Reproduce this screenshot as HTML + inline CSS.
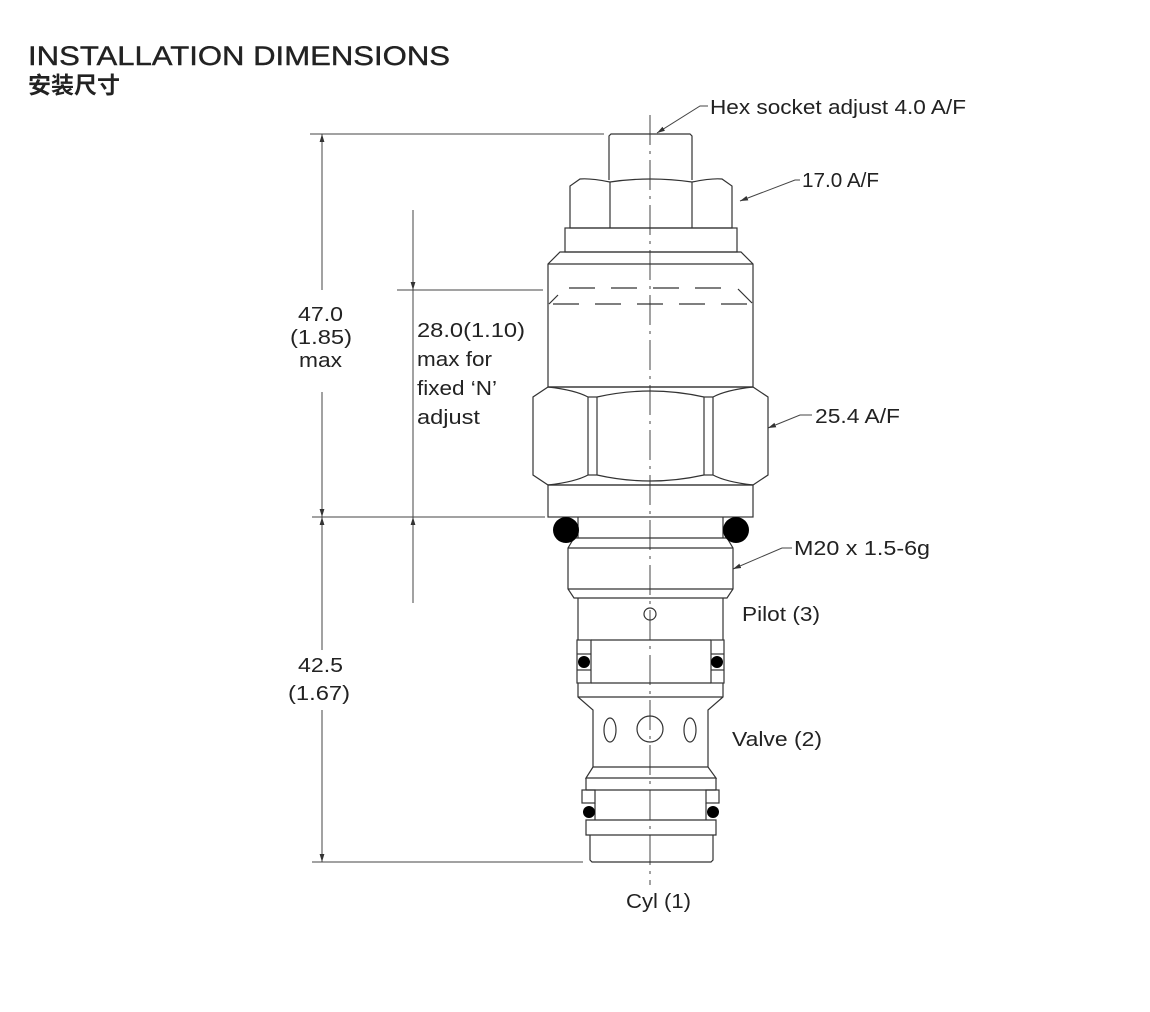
<!DOCTYPE html>
<html><head><meta charset="utf-8"><style>
html,body{margin:0;padding:0;background:#fff;width:1150px;height:1012px;overflow:hidden}
svg{display:block}
text{font-family:"Liberation Sans","Noto Sans CJK SC",sans-serif;fill:#222}
</style></head><body>
<svg width="1150" height="1012" viewBox="0 0 1150 1012" xmlns="http://www.w3.org/2000/svg">
<defs>
<marker id="ar" viewBox="0 0 10 10" refX="10" refY="5" markerWidth="8" markerHeight="8" orient="auto-start-reverse" markerUnits="userSpaceOnUse"><path d="M0,2 L10,5 L0,8 z" fill="#333"/></marker>
</defs>
<text x="28" y="65" font-size="27" textLength="422" lengthAdjust="spacingAndGlyphs" stroke="#222" stroke-width="0.4">INSTALLATION DIMENSIONS</text>
<text x="28" y="93" font-size="23" font-weight="bold" style="font-family:'Noto Sans CJK SC',sans-serif">安装尺寸</text>

<g stroke="#444" stroke-width="1" fill="none">
<line x1="650" y1="115" x2="650" y2="885" stroke-dasharray="30,6,3,6"/>
<line x1="310" y1="134" x2="604" y2="134"/>
<line x1="312" y1="517" x2="545" y2="517"/>
<line x1="312" y1="862" x2="583" y2="862"/>
<line x1="397" y1="290" x2="543" y2="290"/>
<line x1="322" y1="134" x2="322" y2="290" marker-start="url(#ar)"/>
<line x1="322" y1="392" x2="322" y2="517" marker-end="url(#ar)"/>
<line x1="322" y1="517" x2="322" y2="650" marker-start="url(#ar)"/>
<line x1="322" y1="710" x2="322" y2="862" marker-end="url(#ar)"/>
<line x1="413" y1="210" x2="413" y2="290" marker-end="url(#ar)"/>
<line x1="413" y1="290" x2="413" y2="517"/>
<line x1="413" y1="517" x2="413" y2="603" marker-start="url(#ar)"/>
<polyline points="708,106 700,106 657,133" marker-end="url(#ar)"/>
<polyline points="800,180 795,180 740,201" marker-end="url(#ar)"/>
<polyline points="812,415 800,415 768,428" marker-end="url(#ar)"/>
<polyline points="792,548 782,548 733,569" marker-end="url(#ar)"/>
</g>

<g stroke="#333" stroke-width="1.2" fill="none">
<path d="M609,180 V136 L611,134 H690 L692,136 V180"/>
<path d="M570,228 V186 L580,179 Q590,178 610,182 Q650,176 692,182 Q712,178 722,179 L732,186 V228 Z"/>
<line x1="610" y1="182" x2="610" y2="228"/><line x1="692" y1="182" x2="692" y2="228"/>
<rect x="565" y="228" width="172" height="24"/>
<path d="M560,252 H741 L753,264 V387 H548 V264 Z"/>
<line x1="548" y1="264" x2="753" y2="264"/>
<line x1="569" y1="288" x2="736" y2="288" stroke-dasharray="26,16"/>
<line x1="553" y1="304" x2="753" y2="304" stroke-dasharray="26,16"/>
<line x1="558" y1="295" x2="549" y2="304"/><line x1="738" y1="289" x2="752" y2="303"/>
<path d="M548,387 L533,397 V475 L548,485 H753 L768,475 V397 L753,387 Z"/>
<path d="M548,387 Q575,390 588,397 V475 Q575,482 548,485"/>
<path d="M753,387 Q726,390 713,397 V475 Q726,482 753,485"/>
<path d="M597,397 Q650,385 704,397 M597,475 Q650,487 704,475"/>
<line x1="588" y1="397" x2="597" y2="397"/><line x1="588" y1="475" x2="597" y2="475"/>
<line x1="597" y1="397" x2="597" y2="475"/><line x1="704" y1="397" x2="704" y2="475"/>
<line x1="704" y1="397" x2="713" y2="397"/><line x1="704" y1="475" x2="713" y2="475"/>
<rect x="548" y="485" width="205" height="32"/>
<line x1="578" y1="517" x2="578" y2="538"/><line x1="723" y1="517" x2="723" y2="538"/>
<path d="M574,538 H727 L733,548 V589 L727,598 H574 L568,589 V548 Z"/>
<line x1="568" y1="548" x2="733" y2="548"/><line x1="568" y1="589" x2="733" y2="589"/>
<line x1="578" y1="598" x2="578" y2="640"/><line x1="723" y1="598" x2="723" y2="640"/>
<circle cx="650" cy="614" r="6"/>
<rect x="577" y="640" width="14" height="43"/><rect x="711" y="640" width="13" height="43"/>
<line x1="577" y1="654" x2="591" y2="654"/><line x1="577" y1="670" x2="591" y2="670"/>
<line x1="711" y1="654" x2="724" y2="654"/><line x1="711" y1="670" x2="724" y2="670"/>
<line x1="591" y1="640" x2="711" y2="640"/><line x1="591" y1="683" x2="711" y2="683"/>
<path d="M578,683 V697 L593,710 V767 M723,683 V697 L708,710 V767"/>
<line x1="578" y1="697" x2="723" y2="697"/>
<ellipse cx="610" cy="730" rx="6" ry="12"/><ellipse cx="690" cy="730" rx="6" ry="12"/>
<circle cx="650" cy="729" r="13"/>
<path d="M593,767 L586,778 H716 L708,767 Z"/>
<path d="M586,778 V790 M716,778 V790"/>
<line x1="586" y1="790" x2="716" y2="790"/>
<rect x="582" y="790" width="13" height="13"/><rect x="706" y="790" width="13" height="13"/>
<line x1="595" y1="803" x2="595" y2="820"/><line x1="706" y1="803" x2="706" y2="820"/>
<path d="M586,820 H716 V835 H586 Z"/>
<path d="M590,835 V860 L592,862 H711 L713,860 V835"/>
</g>
<g fill="#000">
<circle cx="566" cy="530" r="13"/><circle cx="736" cy="530" r="13"/>
<circle cx="584" cy="662" r="6"/><circle cx="717" cy="662" r="6"/>
<circle cx="589" cy="812" r="6"/><circle cx="713" cy="812" r="6"/>
</g>

<g font-size="20">
<text x="710" y="114" textLength="256" lengthAdjust="spacingAndGlyphs">Hex socket adjust 4.0 A/F</text>
<text x="802" y="187" textLength="77" lengthAdjust="spacingAndGlyphs">17.0 A/F</text>
<text x="815" y="423" textLength="85" lengthAdjust="spacingAndGlyphs">25.4 A/F</text>
<text x="794" y="555" textLength="136" lengthAdjust="spacingAndGlyphs">M20 x 1.5-6g</text>
<text x="742" y="621" textLength="78" lengthAdjust="spacingAndGlyphs">Pilot (3)</text>
<text x="732" y="746" textLength="90" lengthAdjust="spacingAndGlyphs">Valve (2)</text>
<text x="626" y="908" textLength="65" lengthAdjust="spacingAndGlyphs">Cyl (1)</text>
<text x="298" y="321" textLength="45" lengthAdjust="spacingAndGlyphs">47.0</text>
<text x="290" y="344" textLength="62" lengthAdjust="spacingAndGlyphs">(1.85)</text>
<text x="299" y="367" textLength="43" lengthAdjust="spacingAndGlyphs">max</text>
<text x="298" y="672" textLength="45" lengthAdjust="spacingAndGlyphs">42.5</text>
<text x="288" y="700" textLength="62" lengthAdjust="spacingAndGlyphs">(1.67)</text>
<text x="417" y="337" textLength="108" lengthAdjust="spacingAndGlyphs">28.0(1.10)</text>
<text x="417" y="366" textLength="75" lengthAdjust="spacingAndGlyphs">max for</text>
<text x="417" y="395" textLength="80" lengthAdjust="spacingAndGlyphs">fixed ‘N’</text>
<text x="417" y="424" textLength="63" lengthAdjust="spacingAndGlyphs">adjust</text>
</g>
</svg>
</body></html>
